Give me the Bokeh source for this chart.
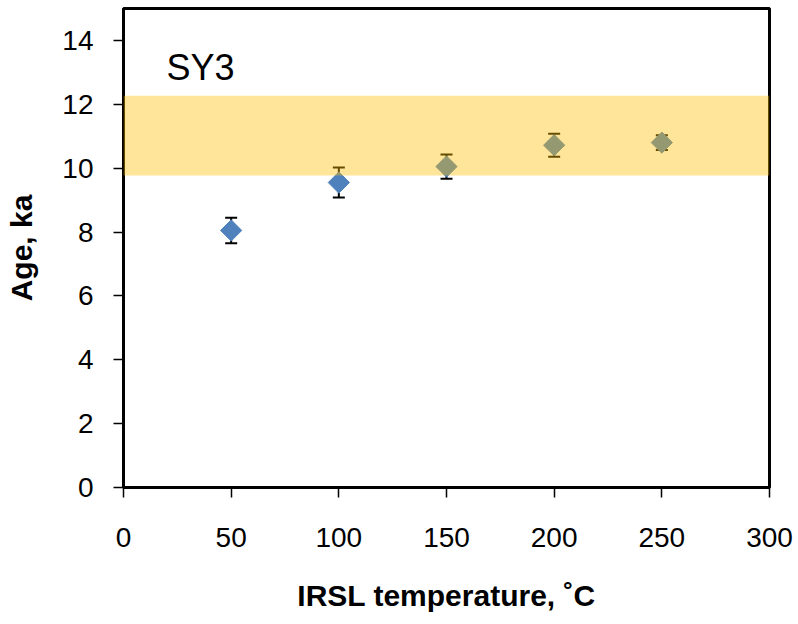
import numpy as np
from bokeh.plotting import figure
from bokeh.models import (Range1d, BoxAnnotation, Whisker, ColumnDataSource,
                          Label, FixedTicker, TeeHead)
from bokeh.embed import file_html
from bokeh.resources import INLINE

# IRSL stimulation temperatures (°C) and the resulting ages (ka) with 1-sigma errors
temperature = [50, 100, 150, 200, 250]
age = [8.05, 9.55, 10.05, 10.72, 10.80]
age_err = [0.40, 0.47, 0.38, 0.36, 0.23]

# Reference age range shown as a shaded band (ka)
band_low = 9.77
band_high = 12.27

x_ticks = [0, 50, 100, 150, 200, 250, 300]
y_ticks = [0, 2, 4, 6, 8, 10, 12, 14]
sample_name = "SY3"

TICK_FONT = "Liberation Sans"
TITLE_FONT = "Liberation Sans"

src = ColumnDataSource(dict(
    x=temperature,
    y=age,
    upper=[a + e for a, e in zip(age, age_err)],
    lower=[a - e for a, e in zip(age, age_err)],
))

p = figure(width=798, height=624, output_backend="svg", toolbar_location=None,
           x_range=Range1d(0, 300), y_range=Range1d(0, 15),
           min_border_left=123, min_border_right=29,
           min_border_top=8, min_border_bottom=137)
p.background_fill_color = "white"
p.border_fill_color = "white"
p.outline_line_color = "black"
p.outline_line_width = 3
p.grid.visible = False

# error bars sit behind the markers
whisker = Whisker(source=src, base="x", upper="upper", lower="lower",
                  line_color="black", line_width=2,
                  upper_head=TeeHead(size=12, line_color="black", line_width=2),
                  lower_head=TeeHead(size=12, line_color="black", line_width=2),
                  level="underlay")
p.add_layout(whisker)

# diamond markers: squares turned by 45 degrees
p.scatter("x", "y", source=src, marker="square", size=15, angle=np.pi / 4,
          fill_color="#4F81BD", line_color="#4F81BD", line_width=1)

# translucent band laid over the points
band = BoxAnnotation(bottom=band_low, top=band_high,
                     fill_color="#FFBF00", fill_alpha=0.40, line_alpha=0)
p.add_layout(band)

p.add_layout(Label(x=20, y=13.16, text=sample_name, text_font=TITLE_FONT,
                   text_font_size="36px", text_color="black",
                   text_baseline="alphabetic"))

for ax in (p.xaxis[0], p.yaxis[0]):
    ax.axis_line_width = 3
    ax.axis_line_color = "black"
    ax.major_tick_in = 0
    ax.major_tick_out = 10
    ax.major_tick_line_width = 1.5
    ax.major_tick_line_color = "black"
    ax.minor_tick_line_color = None
    ax.major_label_text_font = TICK_FONT
    ax.major_label_text_font_size = "28px"
    ax.major_label_text_color = "black"
    ax.axis_label_text_font = TITLE_FONT
    ax.axis_label_text_font_size = "30px"
    ax.axis_label_text_font_style = "bold"
    ax.axis_label_text_color = "black"

p.xaxis.ticker = FixedTicker(ticks=x_ticks)
p.yaxis.ticker = FixedTicker(ticks=y_ticks)
p.xaxis.axis_label = "IRSL temperature, \u02daC"
p.yaxis.axis_label = "Age, ka"
p.xaxis.major_label_standoff = 30
p.yaxis.major_label_standoff = 20
p.xaxis.axis_label_standoff = 29
p.yaxis.axis_label_standoff = 21

open("out.html", "w").write(file_html(p, INLINE))
